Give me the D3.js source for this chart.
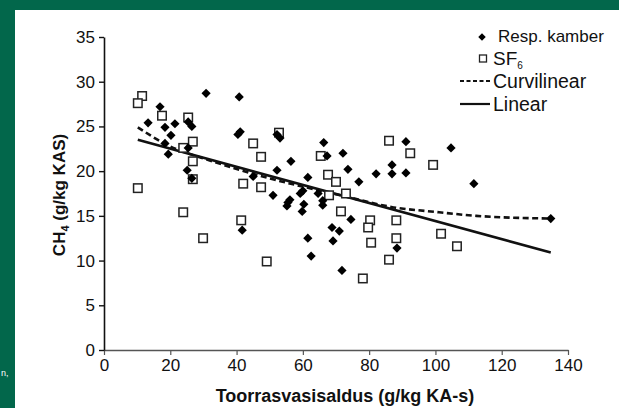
<!DOCTYPE html>
<html>
<head>
<meta charset="utf-8">
<script src="https://cdn.jsdelivr.net/npm/d3@7"></script>
<style>
  html, body { margin: 0; padding: 0; background: #02674b; }
  svg { display: block; font-family: "Liberation Sans", Arial, sans-serif; }
</style>
</head>
<body>
<div id="chart"></div>
<script>
// Data
const respX = [13.3, 16.9, 30.8, 18.4, 21.4, 20.2, 25.4, 26.5, 18.4, 19.4, 25.4, 25.1, 26.5, 40.8, 40.4, 41.1,
    45.0, 52.2, 53.1, 56.4, 52.2, 61.5, 66.3, 67.3, 72.1, 91.1, 104.7, 73.6, 82.1, 86.9, 86.9, 91.1, 76.9,
    64.6, 66.0, 66.0, 74.5, 68.8, 71.0, 69.1, 88.4, 71.8, 51.0, 55.5, 56.1, 55.2, 60.3, 59.8, 59.2, 60.0,
    41.7, 61.5, 62.5, 111.6, 134.8];
const respY = [25.4, 27.2, 28.7, 24.9, 25.3, 24.0, 25.5, 25.0, 23.1, 21.9, 22.6, 20.1, 19.2, 28.3, 24.1, 24.4,
    19.4, 24.1, 23.7, 21.1, 20.1, 19.3, 23.2, 21.7, 22.0, 23.3, 22.6, 20.2, 19.7, 20.7, 19.7, 19.8, 18.8,
    17.5, 16.7, 16.2, 14.6, 13.7, 13.3, 12.2, 11.4, 8.9, 17.3, 16.5, 16.8, 16.1, 16.3, 15.5, 17.5, 17.8,
    13.4, 12.5, 10.5, 18.6, 14.7];

const sf6X = [11.5, 10.2, 17.5, 25.4, 26.8, 23.9, 26.8, 26.8, 10.2, 45.0, 47.4, 42.0, 47.4, 52.8, 65.4, 67.6,
    70.0, 86.0, 92.4, 99.3, 73.0, 67.9, 71.5, 80.3, 79.7, 88.2, 80.6, 88.2, 101.7, 106.5, 86.0, 78.1,
    23.9, 29.9, 41.4, 49.1];
const sf6Y = [28.4, 27.6, 26.2, 26.0, 23.3, 22.6, 21.1, 19.1, 18.1, 23.1, 21.6, 18.6, 18.2, 24.3, 21.7, 19.6,
    18.8, 23.4, 22.0, 20.7, 17.5, 17.3, 15.5, 14.5, 13.7, 14.5, 12.0, 12.5, 13.0, 11.6, 10.1, 8.0,
    15.4, 12.5, 14.5, 9.9];

const curveX = [10.2, 19.2, 31.9, 49.9, 71.4, 86.7, 101.1, 112.3, 134.8];
const curveY = [24.9, 22.9, 21.2, 19.2, 17.3, 16.0, 15.4, 15.0, 14.7];

const linearX = [10.2, 134.8];
const linearY = [23.5, 10.9];

const xTicks = [0, 20, 40, 60, 80, 100, 120, 140];
const yTicks = [0, 5, 10, 15, 20, 25, 30, 35];

const W = 619, H = 408;

const svg = d3.select("#chart").append("svg")
    .attr("width", W)
    .attr("height", H);

// green frame + white panel
svg.append("rect").attr("width", W).attr("height", H).attr("fill", "#02674b");
svg.append("rect").attr("x", 15).attr("y", 10).attr("width", W - 15).attr("height", H - 10).attr("fill", "#fff");
svg.append("text").attr("x", 1).attr("y", 376).attr("fill", "#fff")
    .style("font-size", "9px").text("n,");

const x = d3.scaleLinear().domain([0, 140]).range([104, 568]);
const y = d3.scaleLinear().domain([0, 35]).range([350, 37]);

// axes
const xAxis = svg.append("g")
    .attr("transform", `translate(0,${y(0)})`)
    .call(d3.axisBottom(x).tickValues(xTicks).tickSize(5).tickPadding(4).tickSizeOuter(0));
const yAxis = svg.append("g")
    .attr("transform", `translate(${x(0)},0)`)
    .call(d3.axisLeft(y).tickValues(yTicks).tickSize(5).tickPadding(4).tickSizeOuter(0));

xAxis.select(".domain").attr("stroke", "#555").attr("stroke-width", 1.3);
yAxis.select(".domain").attr("stroke", "#111").attr("stroke-width", 1.6);
xAxis.selectAll(".tick line").attr("stroke", "#555").attr("stroke-width", 1.2);
yAxis.selectAll(".tick line").attr("stroke", "#111").attr("stroke-width", 1.4);
[xAxis, yAxis].forEach(a => a.selectAll(".tick text")
    .attr("fill", "#111")
    .style("font-family", "Liberation Sans, Arial, sans-serif")
    .style("font-size", "17px"));

// axis titles
svg.append("text")
    .attr("x", 345).attr("y", 402)
    .attr("text-anchor", "middle")
    .style("font-size", "18px").style("font-weight", "bold").attr("fill", "#111")
    .text("Toorrasvasisaldus (g/kg KA-s)");

const yl = svg.append("text")
    .attr("transform", "translate(65,195) rotate(-90)")
    .attr("text-anchor", "middle")
    .style("font-size", "17px").style("font-weight", "bold").attr("fill", "#111");
yl.append("tspan").text("CH");
yl.append("tspan").attr("dy", 4).style("font-size", "11px").text("4");
yl.append("tspan").attr("dy", -4).text(" (g/kg KAS)");

// lines
const line = d3.line().x(d => x(d[0])).y(d => y(d[1]));
svg.append("path")
    .datum(d3.zip(curveX, curveY))
    .attr("d", line.curve(d3.curveMonotoneX))
    .attr("fill", "none").attr("stroke", "#111").attr("stroke-width", 2.6)
    .attr("stroke-dasharray", "6,3.5");
svg.append("path")
    .datum(d3.zip(linearX, linearY))
    .attr("d", d3.line().x(d => x(d[0])).y(d => y(d[1])))
    .attr("fill", "none").attr("stroke", "#111").attr("stroke-width", 2.6);

// markers
const sq = 8.5;
svg.append("g").selectAll("rect")
    .data(d3.zip(sf6X, sf6Y))
    .join("rect")
    .attr("x", d => x(d[0]) - sq / 2)
    .attr("y", d => y(d[1]) - sq / 2)
    .attr("width", sq).attr("height", sq)
    .attr("fill", "#fff").attr("stroke", "#222").attr("stroke-width", 1.5);

const diamond = d3.symbol().type(d3.symbolDiamond2).size(54);
svg.append("g").selectAll("path")
    .data(d3.zip(respX, respY))
    .join("path")
    .attr("transform", d => `translate(${x(d[0])},${y(d[1])})`)
    .attr("d", diamond)
    .attr("fill", "#000");

// legend
const lg = svg.append("g").style("fill", "#111");
lg.append("path").attr("transform", "translate(482,37)").attr("d", d3.symbol().type(d3.symbolDiamond2).size(36)).attr("fill", "#000");
lg.append("text").attr("x", 498).attr("y", 42).style("font-size", "17px").text("Resp. kamber");
lg.append("rect").attr("x", 479.5).attr("y", 55).attr("width", 7).attr("height", 7)
    .attr("fill", "#fff").attr("stroke", "#222").attr("stroke-width", 1.3);
const sfT = lg.append("text").attr("x", 493).attr("y", 65).style("font-size", "19px");
sfT.append("tspan").text("SF");
sfT.append("tspan").attr("dy", 4).style("font-size", "10px").text("6");
lg.append("line").attr("x1", 460).attr("x2", 490).attr("y1", 81).attr("y2", 81)
    .attr("stroke", "#111").attr("stroke-width", 2.2).attr("stroke-dasharray", "4,2.5");
lg.append("text").attr("x", 493).attr("y", 88).style("font-size", "19.5px").text("Curvilinear");
lg.append("line").attr("x1", 460).attr("x2", 490).attr("y1", 104).attr("y2", 104)
    .attr("stroke", "#111").attr("stroke-width", 2.2);
lg.append("text").attr("x", 493).attr("y", 111).style("font-size", "19.5px").text("Linear");
</script>
</body>
</html>
